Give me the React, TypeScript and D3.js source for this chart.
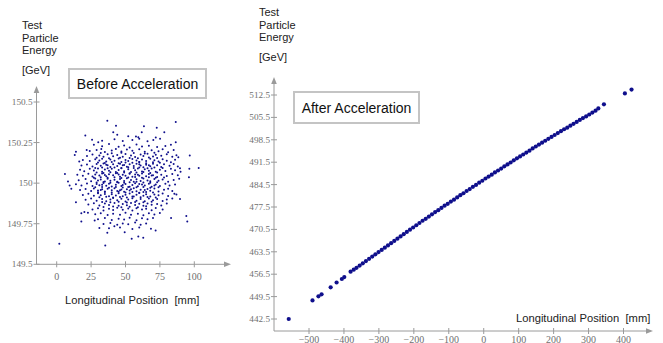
import React from "react";
import * as d3 from "d3";

// ---- Data -------------------------------------------------------------
// Beam before acceleration: [longitudinal position (mm), energy (GeV)]
const beforeBeam: [number, number][] = [
  // outer particles
  [36.8,150.385],[43.1,150.354],[86.5,150.377],[63.4,150.351],[72.7,150.342],[20.8,150.293],[78.2,150.314],
  [41.1,150.314],[61.8,150.314],[59.3,150.283],[25.7,150.268],[103.2,150.094],[96.7,150.17],[96.4,150.088],
  [96.1,150.037],[6.0,150.057],[8.2,150.01],[9.4,149.985],[10.6,149.965],[14.0,149.883],[17.9,149.815],
  [17.9,149.764],[20.1,149.822],[22.7,149.817],[1.9,149.626],[35.3,149.616],[54.5,149.657],[59.3,149.671],
  [62.9,149.663],[94.2,149.797],[94.9,149.764],[89.6,149.903],[85.5,149.934],[83.1,149.785],[36.8,149.694],
  [49.4,149.698],[31.0,149.723],[71.9,149.708],[68.5,149.719],[41.9,149.735],[27.6,149.77],[13.1,150.174],
  [14.0,150.194],[16.4,150.133],[21.8,150.205],[30.2,150.252],[32.4,150.211],[88.4,150.16],[89.6,150.092],
  [86.5,150.252],[70.2,150.266],[75.1,150.273],[57.6,150.287],[60.0,150.273],
  [33,150.262],[42,150.271],[48,150.259],[55,150.266],[66,150.258],[72,150.281],[44,150.298],[52,150.289],
  // main body
  [27,150.236],[33,150.228],[38,150.241],[45,150.224],[49,150.232],[53,150.219],[58,150.238],[62,150.226],
  [67,150.231],[73,150.222],[79,150.229],[83,150.237],
  [24,150.198],[29,150.205],[35,150.192],[40,150.201],[43,150.211],[47,150.195],[51,150.207],[55,150.199],
  [60,150.209],[64,150.193],[69,150.203],[74,150.196],[77,150.209],[81,150.191],[85,150.204],
  [32,150.186],[40,150.184],[47,150.187],[56,150.185],[64,150.183],[71,150.188],
  [22,150.168],[26,150.176],[31,150.171],[34,150.162],[37,150.178],[41,150.166],[44,150.174],[48,150.163],
  [50,150.179],[54,150.17],[57,150.161],[61,150.176],[63,150.167],[66,150.181],[70,150.164],[72,150.175],
  [76,150.169],[80,150.178],[84,150.163],[87,150.172],
  [29,150.156],[38,150.154],[46,150.157],[53,150.155],[59,150.153],[67,150.158],[73,150.155],
  [19,150.142],[24,150.136],[28,150.148],[31,150.139],[33,150.151],[36,150.133],[39,150.145],[42,150.138],
  [45,150.152],[47,150.131],[50,150.143],[52,150.136],[55,150.149],[58,150.14],[60,150.131],[62,150.146],
  [65,150.137],[68,150.15],[71,150.141],[74,150.133],[77,150.147],[80,150.138],[83,150.129],[86,150.144],
  [18,150.108],[22,150.115],[26,150.102],[29,150.118],[32,150.107],[34,150.121],[37,150.111],[39,150.099],
  [41,150.116],[44,150.105],[46,150.119],[48,150.11],[51,150.101],[53,150.117],[56,150.106],[58,150.12],
  [61,150.109],[63,150.098],[65,150.114],[68,150.104],[70,150.119],[73,150.11],[76,150.1],[78,150.116],
  [82,150.107],[85,150.118],[88,150.103],
  [36,150.113],[49,150.112],[60,150.116],[67,150.111],
  [17,150.082],[20,150.074],[24,150.088],[27,150.078],[30,150.09],[33,150.071],[35,150.084],[38,150.076],
  [40,150.089],[43,150.069],[45,150.081],[47,150.092],[49,150.073],[52,150.086],[54,150.068],[57,150.08],
  [59,150.091],[62,150.072],[64,150.085],[67,150.077],[69,150.09],[72,150.07],[75,150.083],[79,150.075],
  [83,150.088],[86,150.079],[90,150.071],
  [15,150.052],[19,150.045],[23,150.058],[26,150.041],[28,150.054],[31,150.047],[33,150.06],[36,150.042],
  [38,150.055],[41,150.048],[43,150.061],[46,150.039],[48,150.052],[50,150.045],[53,150.058],[55,150.04],
  [57,150.053],[60,150.046],[62,150.06],[65,150.043],[67,150.056],[70,150.049],[73,150.038],[76,150.051],
  [80,150.044],[84,150.057],[88,150.048],
  [35,150.05],[45,150.053],[59,150.051],[69,150.047],
  [16,150.018],[21,150.025],[25,150.012],[28,150.029],[30,150.016],[32,150.023],[35,150.01],[37,150.027],
  [39,150.015],[42,150.021],[44,150.009],[46,150.026],[49,150.014],[51,150.03],[54,150.019],[56,150.008],
  [58,150.024],[61,150.013],[63,150.028],[66,150.017],[68,150.011],[71,150.026],[74,150.015],[77,150.022],
  [81,150.009],[85,150.02],[89,150.027],
  [14,149.993],[18,149.985],[22,149.998],[26,149.982],[29,149.995],[31,149.987],[34,150.001],[36,149.984],
  [38,149.996],[40,149.979],[43,149.99],[45,150.002],[47,149.983],[50,149.994],[52,149.977],[55,149.989],
  [57,150.0],[59,149.981],[62,149.992],[64,149.985],[67,149.997],[69,149.978],[72,149.991],[75,149.983],
  [79,149.996],[82,149.986],[86,149.992],
  [33,149.99],[48,149.988],[60,149.995],[71,149.985],
  [17,149.958],[21,149.964],[25,149.951],[27,149.967],[30,149.955],[33,149.962],[35,149.949],[37,149.966],
  [40,149.956],[42,149.969],[44,149.952],[47,149.961],[49,149.947],[51,149.963],[53,149.954],[56,149.968],
  [58,149.95],[61,149.96],[63,149.946],[66,149.964],[68,149.953],[71,149.967],[74,149.949],[78,149.959],
  [81,149.966],[84,149.951],
  [32,149.958],[46,149.956],[54,149.962],[64,149.958],
  [19,149.927],[23,149.935],[27,149.922],[30,149.938],[32,149.925],[35,149.933],[38,149.919],[40,149.931],
  [43,149.924],[45,149.937],[48,149.92],[50,149.929],[53,149.936],[55,149.918],[58,149.928],[60,149.939],
  [63,149.923],[65,149.932],[68,149.917],[71,149.93],[74,149.925],[77,149.936],[81,149.921],[87,149.93],
  [21,149.898],[25,149.905],[29,149.892],[33,149.903],[36,149.889],[39,149.9],[41,149.908],[44,149.894],
  [47,149.904],[50,149.887],[52,149.899],[55,149.907],[58,149.891],[61,149.902],[64,149.888],[67,149.906],
  [70,149.895],[73,149.903],[77,149.89],[80,149.899],[84,149.906],
  [23,149.868],[27,149.876],[31,149.862],[35,149.874],[38,149.865],[42,149.877],[45,149.86],[48,149.871],
  [51,149.864],[54,149.878],[57,149.866],[60,149.873],[63,149.861],[66,149.875],[69,149.867],[73,149.872],
  [76,149.862],[80,149.875],
  [26,149.838],[30,149.845],[34,149.832],[38,149.843],[41,149.835],[44,149.848],[48,149.836],[52,149.844],
  [55,149.831],[58,149.846],[62,149.837],[65,149.842],[69,149.833],[72,149.847],[77,149.838],
  [28,149.808],[32,149.815],[37,149.803],[41,149.812],[46,149.806],[50,149.817],[54,149.805],[59,149.811],
  [63,149.802],[67,149.814],[71,149.807],[75,149.816],
  [30,149.778],[35,149.785],[40,149.773],[45,149.781],[49,149.776],[53,149.787],[58,149.772],[62,149.783],
  [66,149.777],[70,149.786],
  [34,149.748],[39,149.755],[44,149.743],[48,149.752],[52,149.746],[57,149.757],[61,149.744],[65,149.751],
  [38,149.722],[46,149.727],[55,149.718],[60,149.726],
  // dense core
  [30,150.127],[35,150.124],[40,150.13],[45,150.122],[50,150.128],[55,150.125],[60,150.131],[65,150.123],
  [70,150.129],[75,150.126],
  [28,150.094],[33,150.097],[37,150.092],[42,150.096],[47,150.093],[52,150.098],[56,150.094],[60,150.097],
  [66,150.092],[71,150.096],[77,150.093],
  [29,150.065],[34,150.062],[39,150.067],[44,150.063],[49,150.066],[53,150.061],[58,150.065],[63,150.068],
  [68,150.063],[73,150.066],
  [27,150.034],[32,150.037],[37,150.033],[42,150.036],[47,150.032],[52,150.035],[57,150.038],[62,150.034],
  [67,150.036],[72,150.033],[78,150.035],
  [29,150.004],[34,150.007],[39,150.003],[44,150.006],[49,150.002],[53,150.005],[58,150.008],[63,150.004],
  [68,150.003],[73,150.006],
  [28,149.974],[33,149.977],[38,149.972],[43,149.976],[48,149.973],[53,149.978],[58,149.974],[63,149.977],
  [68,149.971],[74,149.975],
  [30,149.944],[35,149.946],[40,149.942],[45,149.947],[50,149.943],[55,149.945],[60,149.941],[65,149.946],
  [70,149.943],
  [31,149.913],[36,149.916],[41,149.911],[46,149.915],[51,149.912],[56,149.917],[61,149.913],[66,149.915],
  [72,149.912],
  [33,149.884],[39,149.882],[45,149.886],[51,149.881],[57,149.884],[63,149.883],[69,149.885],
  [34,149.853],[41,149.856],[47,149.852],[53,149.855],[59,149.851],[65,149.857],
];

// Beam after acceleration: [longitudinal position (mm), energy (GeV)]
const afterBeam: [number, number][] = [
  [-558,442.5],[-490,448.3],[-473,449.6],[-464,450.2],[-438,452.4],[-421,453.9],[-406,455.0],[-399,455.6],
  [-381,457.3],[-372,457.9],[-364,458.5],
  [-355,459.2],[-346,459.9],[-337,460.6],[-328,461.3],[-319,462.0],[-310,462.7],[-301,463.4],[-292,464.1],
  [-283,464.8],[-274,465.5],[-265,466.2],[-256,466.9],[-247,467.6],[-238,468.3],[-229,469.0],[-220,469.7],
  [-211,470.4],[-202,471.1],[-193,471.8],[-184,472.5],[-175,473.2],[-166,473.8],[-157,474.5],[-148,475.2],
  [-139,475.9],[-130,476.5],[-121,477.2],[-112,477.9],[-103,478.5],[-94,479.2],[-85,479.8],[-76,480.5],
  [-67,481.2],[-58,481.8],[-49,482.5],[-40,483.1],[-31,483.8],[-22,484.4],[-13,485.1],[-4,485.7],
  [5,486.4],[14,487.0],[23,487.6],[32,488.3],[41,488.9],[50,489.5],[59,490.2],[68,490.8],[77,491.4],
  [86,492.1],[95,492.7],[104,493.3],[113,493.9],[122,494.5],[131,495.1],[140,495.8],[149,496.4],
  [158,497.0],[167,497.6],[176,498.2],[185,498.8],[194,499.4],[203,500.0],[212,500.6],[221,501.2],
  [230,501.8],[239,502.3],[248,502.9],[257,503.5],[266,504.1],[275,504.7],[284,505.3],[293,505.8],
  [302,506.4],[311,507.0],[320,507.6],[328,508.3],
  [344,509.6],[404,513.0],[423,514.2],
];

// Tick values
const beforeXTicks = [0, 25, 50, 75, 100];
const beforeYTicks = [149.5, 149.75, 150, 150.25, 150.5];
const afterXTicks = [-500, -400, -300, -200, -100, 0, 100, 200, 300, 400];
const afterYTicks = [442.5, 449.5, 456.5, 463.5, 470.5, 477.5, 484.5, 491.5, 498.5, 505.5, 512.5];

const yTitleLines = ["Test", "Particle", "Energy"];
const unitLabel = "[GeV]";
const xTitle = "Longitudinal Position\u00a0\u00a0[mm]";

// ---- Styling ----------------------------------------------------------
const W = 663;
const H = 343;
const AXIS = "#9a9a9a";
const TICK_TEXT = "#6f6f6f";
const DOT = "#0f0f8c";
const SANS = "Liberation Sans, Arial, sans-serif";
const SERIF = "Liberation Serif, DejaVu Serif, serif";

type PanelProps = {
  data: [number, number][];
  xTicks: number[];
  yTicks: number[];
  xDomain: [number, number];
  xRange: [number, number];
  yDomain: [number, number];
  yRange: [number, number];
  originX: number;
  originY: number;
  xEnd: number;
  yEnd: number;
  dotR: number;
  yFmt: (v: number) => string;
  xLabelSize: number;
  xLabelBaseline: number;
  yLabelSize: number;
};

function Arrow({ x, y, dir }: { x: number; y: number; dir: "up" | "right" }) {
  const d =
    dir === "up"
      ? `M${x},${y} L${x - 2.8},${y + 7} L${x + 2.8},${y + 7} Z`
      : `M${x},${y} L${x - 7},${y - 2.8} L${x - 7},${y + 2.8} Z`;
  return <path d={d} fill={AXIS} />;
}

function Panel(p: PanelProps) {
  const x = d3.scaleLinear().domain(p.xDomain).range(p.xRange);
  const y = d3.scaleLinear().domain(p.yDomain).range(p.yRange);
  const xFmt = (v: number) => (v < 0 ? "\u2212" + Math.abs(v) : String(v));
  return (
    <g>
      {/* axes */}
      <line x1={p.originX} y1={p.originY} x2={p.xEnd - 3} y2={p.originY} stroke={AXIS} strokeWidth={1} />
      <line x1={p.originX} y1={p.originY} x2={p.originX} y2={p.yEnd + 3} stroke={AXIS} strokeWidth={1} />
      <Arrow x={p.xEnd} y={p.originY} dir="right" />
      <Arrow x={p.originX} y={p.yEnd} dir="up" />
      {p.xTicks.map((t) => (
        <g key={"x" + t}>
          <line x1={x(t)} x2={x(t)} y1={p.originY - 3} y2={p.originY + 3} stroke={AXIS} />
          <text
            x={x(t)}
            y={p.xLabelBaseline}
            textAnchor="middle"
            style={{ fontFamily: SERIF }}
            fontSize={p.xLabelSize}
            fill={TICK_TEXT}
          >
            {xFmt(t)}
          </text>
        </g>
      ))}
      {p.yTicks.map((t) => (
        <g key={"y" + t}>
          <line x1={p.originX - 3} x2={p.originX + 3} y1={y(t)} y2={y(t)} stroke={AXIS} />
          <text
            x={p.originX - 4}
            y={y(t)}
            dy="0.33em"
            textAnchor="end"
            style={{ fontFamily: SERIF }}
            fontSize={p.yLabelSize}
            fill={TICK_TEXT}
          >
            {p.yFmt(t)}
          </text>
        </g>
      ))}
      {/* particles */}
      {p.data.map(([px, py], i) => (
        <circle key={i} cx={x(px)} cy={y(py)} r={p.dotR} fill={DOT} />
      ))}
    </g>
  );
}

function YTitle({ x, y0 }: { x: number; y0: number }) {
  return (
    <g style={{ fontFamily: SANS }} fontSize={11} fill="#222">
      {yTitleLines.map((s, i) => (
        <text key={s} x={x} y={y0 + i * 12.5}>
          {s}
        </text>
      ))}
      <text x={x} y={y0 + 45}>
        {unitLabel}
      </text>
    </g>
  );
}

function LabelBox({ x, y, w, h, text }: { x: number; y: number; w: number; h: number; text: string }) {
  return (
    <g>
      <rect x={x} y={y} width={w} height={h} fill="#fff" stroke="#c4c4c4" strokeWidth={2} />
      <text
        x={x + w / 2}
        y={y + h / 2 + 5}
        textAnchor="middle"
        style={{ fontFamily: SANS }}
        fontSize={14}
        fill="#111"
      >
        {text}
      </text>
    </g>
  );
}

export default function App() {
  return (
    <svg
      width={W}
      height={H}
      viewBox={`0 0 ${W} ${H}`}
      style={{ position: "absolute", left: 0, top: 0, background: "#fff" }}
    >
      <rect width={W} height={H} fill="#fff" />

      {/* Before acceleration */}
      <YTitle x={22} y0={29} />
      <LabelBox x={69} y={69} w={137} h={29} text="Before Acceleration" />
      <Panel
        data={beforeBeam}
        xTicks={beforeXTicks}
        yTicks={beforeYTicks}
        xDomain={[0, 100]}
        xRange={[56.7, 194.3]}
        yDomain={[149.5, 150.5]}
        yRange={[264.3, 102]}
        originX={36.5}
        originY={264.3}
        xEnd={231}
        yEnd={86}
        dotR={1}
        yFmt={(v) => String(v)}
        xLabelSize={10}
        xLabelBaseline={279.5}
        yLabelSize={9.2}
      />
      <text x={65} y={303.5} style={{ fontFamily: SANS }} fontSize={11.2} fill="#222">
        {xTitle}
      </text>

      {/* After acceleration */}
      <YTitle x={259} y0={16} />
      <Panel
        data={afterBeam}
        xTicks={afterXTicks}
        yTicks={afterYTicks}
        xDomain={[-500, 400]}
        xRange={[309, 623.5]}
        yDomain={[442.5, 512.5]}
        yRange={[319, 95]}
        originX={274}
        originY={331}
        xEnd={653}
        yEnd={77}
        dotR={2.1}
        yFmt={(v) => v.toFixed(1)}
        xLabelSize={10}
        xLabelBaseline={342.5}
        yLabelSize={9.2}
      />
      <LabelBox x={294} y={92} w={125} h={31} text="After Acceleration" />
      <text x={516} y={321.5} style={{ fontFamily: SANS }} fontSize={11.2} fill="#222">
        {xTitle}
      </text>
    </svg>
  );
}
